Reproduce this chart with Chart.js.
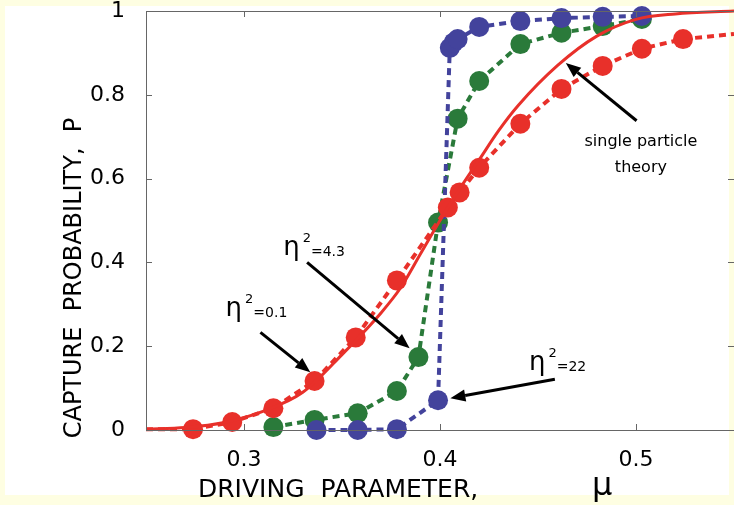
<!DOCTYPE html>
<html>
<head>
<meta charset="utf-8">
<script src="https://cdn.jsdelivr.net/npm/chart.js@4"></script>
<style>
  html, body { margin: 0; padding: 0; overflow: hidden; background: #fefee2; }
  canvas { display: block; }
</style>
</head>
<body>
<canvas id="capture" width="734" height="505"></canvas>
<script>
// Driving parameter mu (x) and capture probability P (y) for each run
const theoryMu = [0.25, 0.27, 0.29, 0.31, 0.33, 0.35, 0.37, 0.38, 0.39, 0.40, 0.41, 0.42, 0.43, 0.44, 0.46, 0.48, 0.50, 0.52, 0.55];
const theoryP  = [0.002, 0.006, 0.018, 0.045, 0.09, 0.18, 0.28, 0.34, 0.42, 0.50, 0.575, 0.645, 0.715, 0.775, 0.87, 0.94, 0.98, 0.993, 1.0];

// eta^2 = 0.1 (first and last entries are the line ends, no marker)
const lowMu = [0.25, 0.274, 0.294, 0.315, 0.336, 0.357, 0.378, 0.404, 0.410, 0.420, 0.441, 0.462, 0.483, 0.503, 0.524, 0.55];
const lowP  = [0.002, 0.002, 0.019, 0.052, 0.117, 0.221, 0.357, 0.531, 0.567, 0.626, 0.731, 0.814, 0.869, 0.910, 0.933, 0.945];

// eta^2 = 4.3
const midMu = [0.315, 0.336, 0.358, 0.378, 0.389, 0.399, 0.409, 0.420, 0.441, 0.462, 0.483, 0.503];
const midP  = [0.007, 0.024, 0.040, 0.093, 0.174, 0.495, 0.743, 0.833, 0.921, 0.948, 0.964, 0.981];

// eta^2 = 22
const highMu = [0.337, 0.358, 0.378, 0.399, 0.405, 0.407, 0.409, 0.420, 0.441, 0.462, 0.483, 0.503];
const highP  = [0.000, 0.000, 0.002, 0.071, 0.912, 0.925, 0.933, 0.962, 0.976, 0.983, 0.986, 0.988];

const xTicks = [0.3, 0.4, 0.5];
const yTicks = [0, 0.2, 0.4, 0.6, 0.8, 1];

const RED = '#e8302a', GREEN = '#2a7a3a', BLUE = '#43439c';
const FONT = "'DejaVu Sans', 'Liberation Sans', Arial, sans-serif";

const pts = (xs, ys) => xs.map((x, i) => ({ x: x, y: ys[i] }));

// callouts: label anchor, arrow tail and tip, all in data units
const callouts = [
  { eta: '0.1', at: [0.2906, 0.271], tail: [0.3084, 0.233], tip: [0.3338, 0.138] },
  { eta: '4.3', at: [0.3200, 0.417], tail: [0.3322, 0.400], tip: [0.3845, 0.195] },
  { eta: '22',  at: [0.4454, 0.143], tail: [0.4586, 0.121], tip: [0.4053, 0.076] },
  { lines: ['single particle', 'theory'], at: [0.5025, 0.677], tail: [0.5003, 0.738], tip: [0.4642, 0.876] }
];

function arrow(ctx, x1, y1, x2, y2) {
  const a = Math.atan2(y2 - y1, x2 - x1);
  const head = 15, half = 6;
  const bx = x2 - head * Math.cos(a), by = y2 - head * Math.sin(a);
  ctx.strokeStyle = '#000';
  ctx.lineWidth = 3;
  ctx.beginPath();
  ctx.moveTo(x1, y1);
  ctx.lineTo(bx, by);
  ctx.stroke();
  ctx.fillStyle = '#000';
  ctx.beginPath();
  ctx.moveTo(x2, y2);
  ctx.lineTo(bx + half * Math.sin(a), by - half * Math.cos(a));
  ctx.lineTo(bx - half * Math.sin(a), by + half * Math.cos(a));
  ctx.closePath();
  ctx.fill();
}

const paper = {
  id: 'paper',
  beforeDraw(chart) {
    const ctx = chart.ctx;
    ctx.save();
    ctx.fillStyle = '#fefee2';
    ctx.fillRect(0, 0, chart.width, chart.height);
    ctx.fillStyle = '#ffffff';
    ctx.fillRect(5, 6, 724, 489);
    ctx.restore();
  },
  afterDraw(chart) {
    const ctx = chart.ctx;
    const { left, right, top, bottom } = chart.chartArea;
    const sx = chart.scales.x, sy = chart.scales.y;
    ctx.save();

    // axes box with inward ticks on all four sides
    ctx.strokeStyle = '#666';
    ctx.lineWidth = 1;
    ctx.strokeRect(left + 0.5, top + 0.5, right - left, bottom - top);
    ctx.beginPath();
    xTicks.forEach(v => {
      const p = Math.round(sx.getPixelForValue(v)) + 0.5;
      ctx.moveTo(p, bottom); ctx.lineTo(p, bottom - 6);
      ctx.moveTo(p, top); ctx.lineTo(p, top + 6);
    });
    yTicks.forEach(v => {
      const p = Math.round(sy.getPixelForValue(v)) + 0.5;
      ctx.moveTo(left, p); ctx.lineTo(left + 6, p);
      ctx.moveTo(right, p); ctx.lineTo(right - 6, p);
    });
    ctx.stroke();

    // axis titles
    ctx.fillStyle = '#000';
    ctx.textBaseline = 'alphabetic';
    ctx.textAlign = 'left';
    ctx.font = '25px ' + FONT;
    ctx.fillText('DRIVING  PARAMETER,', 198, 497);
    ctx.font = '32px ' + FONT;
    ctx.fillText('\u03bc', 592, 495);
    ctx.save();
    ctx.translate(75, 278);
    ctx.rotate(-Math.PI / 2);
    ctx.textAlign = 'center';
    ctx.textBaseline = 'middle';
    ctx.font = '24px ' + FONT;
    ctx.fillText('CAPTURE  PROBABILITY,  P', 0, 0);
    ctx.restore();

    // callout labels and arrows
    callouts.forEach(c => {
      arrow(ctx, sx.getPixelForValue(c.tail[0]), sy.getPixelForValue(c.tail[1]),
                 sx.getPixelForValue(c.tip[0]), sy.getPixelForValue(c.tip[1]));
      const x = sx.getPixelForValue(c.at[0]), y = sy.getPixelForValue(c.at[1]);
      ctx.fillStyle = '#000';
      if (c.lines) {
        ctx.textAlign = 'center';
        ctx.font = '16px ' + FONT;
        c.lines.forEach((t, i) => ctx.fillText(t, x, y + i * 26));
        ctx.textAlign = 'left';
        return;
      }
      ctx.textAlign = 'left';
      ctx.font = '26px ' + FONT;
      ctx.fillText('\u03b7', x, y);
      const w = ctx.measureText('\u03b7').width;
      ctx.font = '13px ' + FONT;
      ctx.fillText('2', x + w + 3, y - 13);
      const w2 = ctx.measureText('2').width;
      ctx.font = '14px ' + FONT;
      ctx.fillText('=' + c.eta, x + w + w2 + 3, y + 1);
    });
    ctx.restore();
  }
};

const dotted = (label, data, color) => ({
  label: label,
  data: data,
  borderColor: color,
  backgroundColor: color,
  borderWidth: 4,
  borderDash: [7, 5],
  pointRadius: 10,
  pointHoverRadius: 10,
  pointBorderWidth: 0,
  clip: false
});

const lowSet = dotted('\u03b7\u00b2=0.1', pts(lowMu, lowP), RED);
lowSet.pointRadius = ctx => (ctx.dataIndex === 0 || ctx.dataIndex === lowMu.length - 1) ? 0 : 10;

new Chart(document.getElementById('capture'), {
  type: 'line',
  data: {
    datasets: [
      {
        label: 'single particle theory',
        data: pts(theoryMu, theoryP),
        borderColor: RED,
        borderWidth: 3,
        pointRadius: 0,
        cubicInterpolationMode: 'monotone',
        clip: false
      },
      lowSet,
      dotted('\u03b7\u00b2=22', pts(highMu, highP), BLUE),
      dotted('\u03b7\u00b2=4.3', pts(midMu, midP), GREEN)
    ]
  },
  options: {
    responsive: false,
    devicePixelRatio: 1,
    animation: false,
    layout: { autoPadding: false, padding: { top: 11, right: 0, left: 0, bottom: 0 } },
    plugins: { legend: { display: false }, tooltip: { enabled: false } },
    scales: {
      x: {
        type: 'linear',
        min: 0.25,
        max: 0.55,
        grid: { display: false },
        border: { display: false },
        afterBuildTicks: s => { s.ticks = xTicks.map(v => ({ value: v })); },
        afterFit: s => { s.height = 75; s.paddingLeft = 0; s.paddingRight = 0; },
        ticks: {
          color: '#000',
          padding: 9,
          maxRotation: 0,
          font: { family: FONT, size: 22 },
          callback: v => String(v)
        }
      },
      y: {
        type: 'linear',
        min: 0,
        max: 1,
        grid: { display: false },
        border: { display: false },
        afterBuildTicks: s => { s.ticks = yTicks.map(v => ({ value: v })); },
        afterFit: s => { s.width = 146; s.paddingTop = 0; s.paddingBottom = 0; },
        ticks: {
          color: '#000',
          padding: 13,
          font: { family: FONT, size: 22 },
          callback: v => String(v)
        }
      }
    }
  },
  plugins: [paper]
});
</script>
</body>
</html>
